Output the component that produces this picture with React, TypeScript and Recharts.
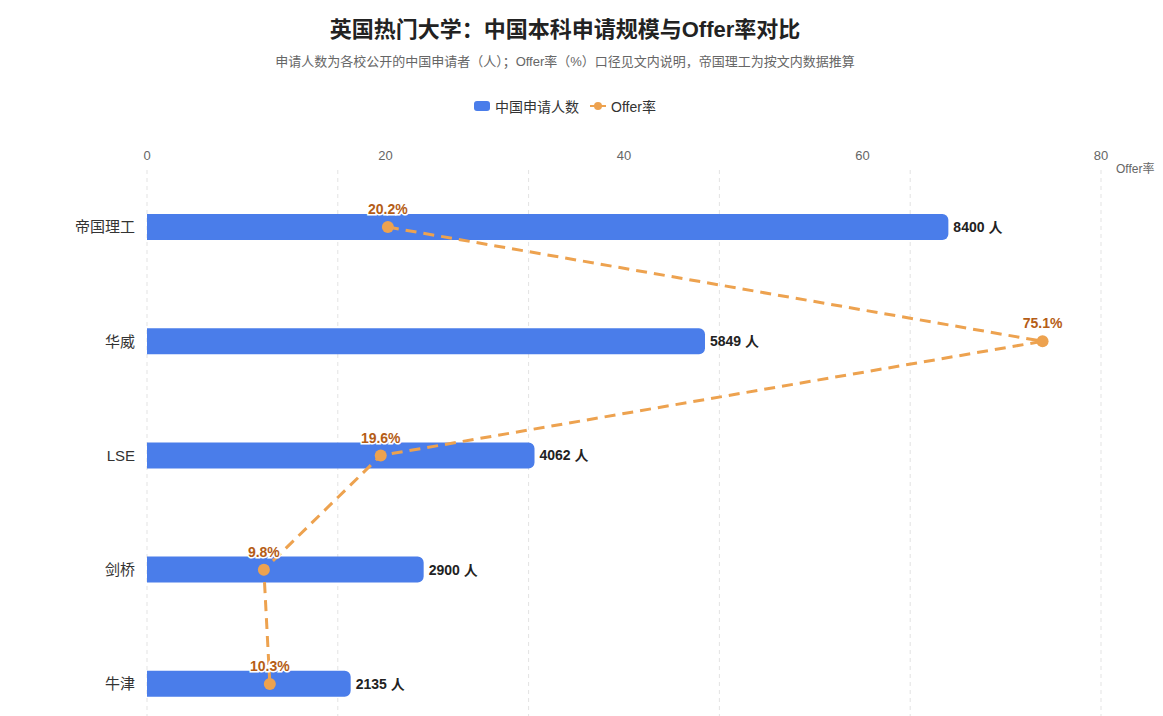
import React from 'react';
import { ComposedChart, Bar, Line, XAxis, YAxis, CartesianGrid, Legend, LabelList } from 'recharts';

const universities = ['帝国理工', '华威', 'LSE', '剑桥', '牛津'];
const applicants = [8400, 5849, 4062, 2900, 2135];
const offerRates = [20.2, 75.1, 19.6, 9.8, 10.3];
const applicantTicks = [0, 2000, 4000, 6000, 8000, 10000];
const rateTicks = [0, 20, 40, 60, 80];

const data = universities.map((name, i) => ({ name, applicants: applicants[i], offer: offerRates[i] }));

const BLUE = '#4a7dea';
const ORANGE = '#eda24f';
const FONT = '"Liberation Sans", Arial, "Noto Sans CJK SC", sans-serif';

const renderLegend = () => (
  <div style={{ display: 'flex', justifyContent: 'center', alignItems: 'center', fontSize: 14, color: '#333', fontFamily: FONT, height: 24 }}>
    <span style={{ display: 'flex', alignItems: 'center', marginRight: 11 }}>
      <svg width={16} height={10} style={{ marginRight: 5 }}>
        <rect x={0} y={0} width={16} height={10} rx={3} fill={BLUE} />
      </svg>
      <span>中国申请人数</span>
    </span>
    <span style={{ display: 'flex', alignItems: 'center' }}>
      <svg width={16} height={10} style={{ marginRight: 5 }}>
        <line x1={0} y1={5} x2={16} y2={5} stroke={ORANGE} strokeWidth={2} />
        <circle cx={8} cy={5} r={4} fill={ORANGE} />
      </svg>
      <span>Offer率</span>
    </span>
  </div>
);

const barLabel = (props: any) => {
  const { x, y, width, height, value } = props;
  return (
    <text x={x + width + 5} y={y + height / 2} dy="0.35em" fontSize={14} fontWeight="bold" fill="#222" fontFamily={FONT}>
      {`${value} 人`}
    </text>
  );
};

const rateLabel = (props: any) => {
  const { x, y, value } = props;
  return (
    <text x={x} y={y - 13} textAnchor="middle" fontSize={14} fontWeight="bold" fill="#b55d16" stroke="#fff" strokeWidth={3} paintOrder="stroke" fontFamily={FONT}>
      {`${value}%`}
    </text>
  );
};

const rateAxisLabel = (props: any) => {
  const { viewBox } = props;
  return (
    <text x={viewBox.x + viewBox.width + 15} y={viewBox.y + viewBox.height - 1} dy="0.35em" fontSize={12} fill="#666" fontFamily={FONT}>
      Offer率（%）
    </text>
  );
};

// bottom axis lies below the visible page in the reference; keep its ticks for the grid
const emptyTick = () => <g />;

export default function App() {
  return (
    <div style={{ position: 'relative', width: 1155, fontFamily: FONT }}>
      <div style={{ position: 'absolute', top: 8, left: 0, width: 1114, textAlign: 'center', fontSize: 22, fontWeight: 'bold', color: '#222', lineHeight: '28px', zIndex: 2 }}>
        英国热门大学：中国本科申请规模与Offer率对比
      </div>
      <div style={{ position: 'absolute', top: 45, left: 0, width: 1114, textAlign: 'center', fontSize: 13, color: '#666', lineHeight: '18px', zIndex: 2 }}>
        申请人数为各校公开的中国申请者（人）；Offer率（%）口径见文内说明，帝国理工为按文内数据推算
      </div>
      <ComposedChart
        width={1155}
        height={797}
        data={data}
        layout="vertical"
        margin={{ top: 132, right: 62, left: 0, bottom: 10 }}
        style={{ overflow: 'visible' }}
      >
        <CartesianGrid horizontal={false} vertical={true} stroke="#e3e3e3" strokeDasharray="4 4" />
        <XAxis
          type="number"
          dataKey="applicants"
          domain={[0, 10000]}
          ticks={applicantTicks}
          axisLine={false}
          tickLine={false}
          tick={emptyTick}
          height={30}
        />
        <XAxis
          xAxisId="rate"
          type="number"
          orientation="top"
          domain={[0, 80]}
          ticks={rateTicks}
          axisLine={false}
          tickLine={false}
          tickMargin={4}
          tick={{ fontSize: 13, fill: '#666' }}
          label={{ content: rateAxisLabel }}
        />
        <YAxis
          type="category"
          dataKey="name"
          width={139}
          axisLine={false}
          tickLine={false}
          tickSize={0}
          tickMargin={12}
          tick={{ fontSize: 15, fill: '#333' }}
        />
        <Legend
          verticalAlign="bottom"
          content={renderLegend}
          wrapperStyle={{ top: 86, bottom: 'auto', left: 0, width: 1114, height: 24 }}
        />
        <Bar dataKey="applicants" name="中国申请人数" fill={BLUE} barSize={26} radius={[0, 6, 6, 0]} isAnimationActive={false}>
          <LabelList dataKey="applicants" content={barLabel} />
        </Bar>
        <Line
          xAxisId="rate"
          dataKey="offer"
          name="Offer率"
          type="linear"
          stroke={ORANGE}
          strokeWidth={3}
          strokeDasharray="11 7"
          dot={{ r: 6, fill: ORANGE, stroke: 'none' }}
          activeDot={false}
          isAnimationActive={false}
        >
          <LabelList dataKey="offer" content={rateLabel} />
        </Line>
      </ComposedChart>
    </div>
  );
}
